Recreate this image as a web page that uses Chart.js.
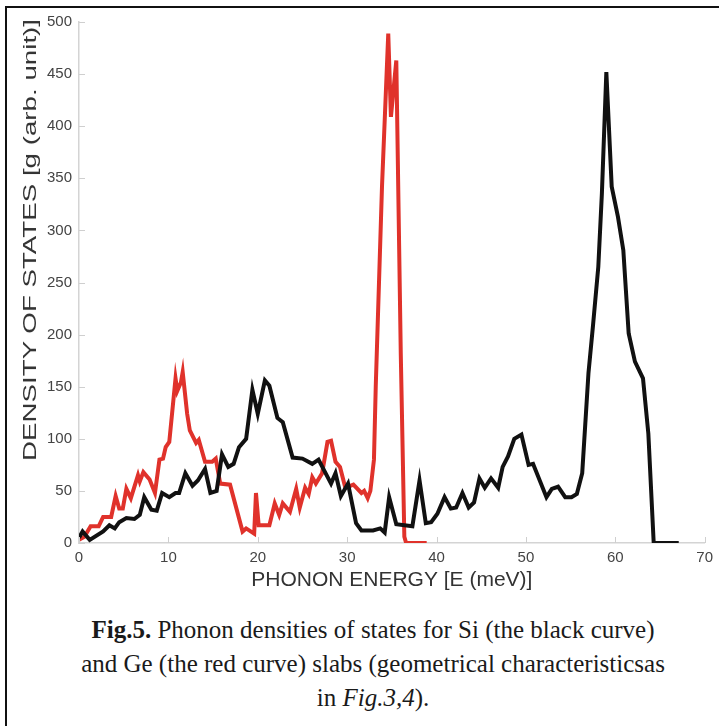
<!DOCTYPE html>
<html>
<head>
<meta charset="utf-8">
<title>Fig.5 Phonon densities of states</title>
<script src="https://cdn.jsdelivr.net/npm/chart.js@4.4.1/dist/chart.umd.min.js"></script>
<style>
  html, body { margin: 0; padding: 0; background: #fff; overflow: hidden; }
  #frame { position: absolute; left: 5px; top: 6px; width: 800px; height: 800px;
           border-left: 2px solid #111; border-top: 2px solid #111; }
  #chartBox { position: absolute; left: 0; top: 0; width: 719px; height: 600px; }
  #yTitle { position: absolute; left: 30px; top: 240px; white-space: nowrap;
            font: 19px "Liberation Sans", Arial, sans-serif; color: #333;
            transform-origin: 50% 50%; }
  #caption { position: absolute; left: 0; top: 613px; width: 746px; text-align: center;
             font: 25px "Liberation Serif", "Times New Roman", serif; line-height: 34px; color: #1a1a1a; }
</style>
</head>
<body>
<div id="frame"></div>
<div id="chartBox"><canvas id="dosChart"></canvas></div>
<div id="yTitle">DENSITY OF STATES [g (arb. unit)]</div>
<div id="caption">
  <b>Fig.5.</b> Phonon densities of states for Si (the black curve)<br>
  and Ge (the red curve) slabs (geometrical characteristicsas<br>
  in <i>Fig.3,4</i>).
</div>
<script>
// Si slab (black curve)
var siEnergy = [0, 0.4, 1.2, 2.7, 3.4, 4.0, 4.5, 5.3, 6.2, 6.8, 7.3, 8.1, 8.7, 9.3, 10.1, 10.8, 11.2, 11.9, 12.7, 13.3,
    14.1, 14.7, 15.4, 16.0, 16.7, 17.3, 17.9, 18.7, 19.4, 20.0, 20.8, 21.3, 22.2, 22.8, 23.9, 25.0, 26.1, 26.8, 28.2, 28.7,
    29.3, 30.1, 31.0, 31.6, 32.9, 33.7, 34.2, 34.7, 35.5, 37.3, 38.1, 38.8, 39.4, 40.1, 40.9, 41.6, 42.2, 42.9, 43.6, 44.2,
    44.8, 45.4, 46.1, 46.9, 47.4, 48.0, 48.7, 49.5, 50.3, 50.8, 52.3, 52.9, 53.6, 54.4, 55.1, 55.7, 56.3, 57.0, 57.5, 58.1,
    58.5, 59.0, 59.6, 60.3, 60.9, 61.5, 62.2, 63.1, 63.7, 64.3, 67.1];
var siDos = [5, 11, 3, 11, 17, 14, 20, 24, 23, 27, 44, 32, 31, 48, 44, 48, 48, 67, 55, 60,
    71, 48, 50, 85, 73, 76, 92, 100, 147, 124, 156, 151, 120, 116, 82, 81, 76, 80, 57, 67,
    45, 57, 19, 12, 12, 14, 10, 44, 18, 16, 60, 19, 20, 28, 44, 33, 34, 48, 34, 39,
    62, 53, 62, 53, 73, 83, 100, 104, 75, 76, 44, 52, 54, 44, 44, 47, 67, 163, 208, 265,
    335, 452, 342, 313, 281, 201, 174, 158, 105, 0, 0];

// Ge slab (red curve)
var geEnergy = [0, 0.6, 1.3, 2.2, 2.7, 3.6, 4.1, 4.5, 4.9, 5.3, 5.8, 6.6, 6.8, 7.2, 7.9, 8.5, 9.0, 9.4, 9.7, 10.1,
    10.8, 11.0, 11.4, 11.6, 12.1, 12.4, 13.1, 13.4, 14.1, 14.9, 15.3, 15.8, 16.9, 18.3, 18.7, 19.6, 19.8, 20.1, 21.3, 21.9,
    22.4, 22.8, 23.6, 24.3, 24.7, 25.3, 25.7, 26.1, 26.5, 27.2, 27.8, 28.2, 28.7, 29.2, 29.8, 30.7, 31.6, 31.9, 32.3, 32.6,
    33.0, 33.2, 33.9, 34.6, 34.9, 35.5, 36.0, 36.4, 36.6, 38.9];
var geDos = [3, 6, 16, 16, 25, 25, 45, 33, 33, 52, 43, 65, 59, 68, 61, 48, 80, 81, 92, 97,
    158, 146, 154, 164, 124, 108, 96, 99, 78, 78, 81, 57, 56, 11, 14, 9, 48, 17, 17, 38,
    27, 38, 30, 52, 34, 53, 47, 63, 57, 67, 97, 98, 78, 73, 53, 56, 48, 50, 43, 50,
    80, 150, 342, 489, 409, 463, 182, 6, 0, 0];

var xTicks = [0, 10, 20, 30, 40, 50, 60, 70];
var yTicks = [0, 50, 100, 150, 200, 250, 300, 350, 400, 450, 500];

function toPoints(xs, ys) {
    return xs.map(function(x, i) { return {x: x, y: ys[i]}; });
}

// short tick marks pointing into the plot, like the original
var innerTicks = {
    id: 'innerTicks',
    afterDraw: function(chart) {
        var ctx = chart.ctx, xs = chart.scales.x, ys = chart.scales.y;
        ctx.save();
        ctx.strokeStyle = '#cfcfcf';
        ctx.lineWidth = 1;
        ctx.beginPath();
        xTicks.forEach(function(v) {
            var px = Math.round(xs.getPixelForValue(v)) + 0.5;
            ctx.moveTo(px, ys.bottom);
            ctx.lineTo(px, ys.bottom - 6);
        });
        yTicks.forEach(function(v) {
            var py = Math.round(ys.getPixelForValue(v)) + 0.5;
            ctx.moveTo(xs.left, py);
            ctx.lineTo(xs.left + 6, py);
        });
        ctx.stroke();
        ctx.restore();
    }
};

document.addEventListener('DOMContentLoaded', function() {
    // stretch the rotated y title to its length in the figure
    var yt = document.getElementById('yTitle');
    var k = 442 / yt.offsetWidth;
    yt.style.transform = 'translate(-50%, -50%) rotate(-90deg) scaleX(' + k + ')';

    var ctx = document.getElementById('dosChart').getContext('2d');
    new Chart(ctx, {
        type: 'line',
        data: {
            datasets: [{
                label: 'Si',
                data: toPoints(siEnergy, siDos),
                borderColor: '#111111',
                borderWidth: 4,
                pointRadius: 0,
                tension: 0
            }, {
                label: 'Ge',
                data: toPoints(geEnergy, geDos),
                borderColor: '#e0322b',
                borderWidth: 4,
                pointRadius: 0,
                tension: 0
            }]
        },
        options: {
            responsive: true,
            maintainAspectRatio: false,
            animation: false,
            layout: { padding: { top: 22, right: 14, left: 0, bottom: 0 } },
            plugins: { legend: { display: false }, tooltip: { enabled: false } },
            scales: {
                x: {
                    type: 'linear',
                    min: 0, max: 70,
                    afterBuildTicks: function(s) { s.ticks = xTicks.map(function(v) { return {value: v}; }); },
                    afterFit: function(s) { s.height = 57; },
                    grid: { drawOnChartArea: false, drawTicks: false },
                    border: { display: true, color: '#d4d4d4', width: 1.5 },
                    ticks: { padding: 6, color: '#444', font: { family: 'Liberation Sans', size: 15 }, maxRotation: 0 },
                    title: {
                        display: true,
                        text: 'PHONON ENERGY [E (meV)]',
                        color: '#333',
                        font: { family: 'Liberation Sans', size: 21 },
                        padding: { top: 0, bottom: 7 }
                    }
                },
                y: {
                    min: 0, max: 500,
                    afterBuildTicks: function(s) { s.ticks = yTicks.map(function(v) { return {value: v}; }); },
                    afterFit: function(s) { s.width = 79; },
                    grid: { drawOnChartArea: false, drawTicks: false },
                    border: { display: true, color: '#d4d4d4', width: 1.5 },
                    ticks: { padding: 7, color: '#444', font: { family: 'Liberation Sans', size: 15 } }
                }
            }
        },
        plugins: [innerTicks]
    });
});
</script>
</body>
</html>
